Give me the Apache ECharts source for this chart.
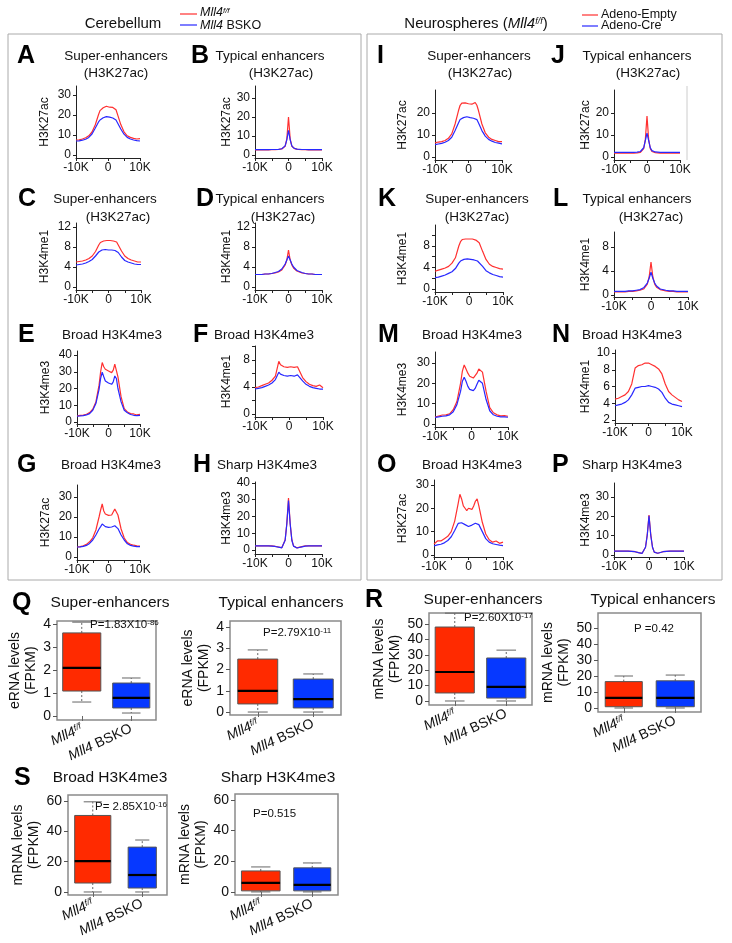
<!DOCTYPE html>
<html><head><meta charset="utf-8">
<script src="https://cdn.jsdelivr.net/npm/echarts@6/dist/echarts.min.js"></script>
<style>html,body{margin:0;padding:0;background:#fff}#c{width:732px;height:943px}</style>
</head><body><div id="c"></div>
<script>
// ---------- DATA ----------
const X_POS = [-10,-9,-8,-7,-6,-5,-4,-3,-2.5,-2,-1.5,-1,-0.5,0,0.5,1,1.5,2,2.5,3,4,5,6,7,8,9,10];
const X_TICKS = [-10,-5,0,5,10];
const X_LABELS = [-10,0,10];

const A_RED  = [7.5,7.6,8.0,8.6,9.6,11.5,15.0,20.0,22.2,23.2,23.6,23.9,24.4,24.2,23.9,23.5,23.8,23.6,22.6,20.2,15.2,11.6,9.6,8.8,8.3,8.0,8.2];
const A_BLUE = [7.0,7.1,7.4,7.9,8.8,10.5,13.4,16.4,17.5,18.2,18.6,18.9,19.2,19.1,18.9,18.7,18.5,18.2,17.5,16.0,13.0,10.4,8.8,8.0,7.5,7.2,7.0];
const B_RED  = [2.7,2.7,2.7,2.7,2.7,2.8,2.8,2.9,3.0,3.2,3.6,4.6,8.5,20.0,8.5,4.6,3.6,3.2,3.0,2.9,2.8,2.8,2.7,2.7,2.7,2.7,2.7];
const B_BLUE = [2.8,2.8,2.8,2.8,2.8,2.9,2.9,3.0,3.1,3.3,3.7,4.8,8.0,13.0,8.0,4.8,3.7,3.3,3.1,3.0,2.9,2.9,2.8,2.8,2.8,2.8,2.8];
const C_RED  = [5.0,5.1,5.2,5.4,5.7,6.2,7.1,8.4,8.9,9.1,9.2,9.3,9.3,9.2,9.3,9.2,9.2,9.1,9.0,8.6,7.2,6.2,5.7,5.4,5.2,5.0,5.0];
const C_BLUE = [4.4,4.5,4.6,4.8,5.1,5.5,6.2,7.0,7.3,7.4,7.4,7.5,7.5,7.4,7.5,7.4,7.4,7.3,7.2,6.9,6.0,5.3,5.0,4.8,4.6,4.5,4.5];
const D_RED  = [2.5,2.5,2.5,2.6,2.6,2.7,2.8,3.0,3.2,3.4,3.8,4.4,5.4,7.4,5.4,4.4,3.8,3.4,3.2,3.0,2.8,2.7,2.6,2.6,2.5,2.5,2.5];
const D_BLUE = [2.5,2.5,2.5,2.6,2.6,2.7,2.9,3.1,3.3,3.6,4.0,4.6,5.4,6.2,5.4,4.6,4.0,3.6,3.3,3.1,2.9,2.7,2.6,2.6,2.5,2.5,2.5];
const E_RED  = [3.6,3.9,4.1,4.6,5.6,7.6,12.0,22.0,30.0,35.5,33.0,31.5,31.0,30.5,30.0,29.5,31.0,34.5,33.5,27.0,15.0,8.0,6.0,5.0,4.8,4.2,4.5];
const E_BLUE = [3.5,3.6,3.8,4.2,5.0,7.0,11.0,19.5,26.0,29.8,27.0,24.5,23.5,23.3,23.0,22.5,24.0,27.5,26.0,20.0,12.0,7.0,5.5,4.5,4.0,3.8,4.0];
const F_RED  = [3.9,4.0,4.2,4.4,4.6,5.0,5.6,7.8,7.3,7.1,7.0,7.0,6.9,6.9,7.0,6.9,6.9,7.0,7.0,7.1,5.4,4.8,4.4,4.2,4.1,4.3,3.9];
const F_BLUE = [3.7,3.8,3.9,4.1,4.3,4.6,5.1,6.2,5.9,5.8,5.7,5.7,5.6,5.6,5.7,5.7,5.6,5.7,5.8,6.0,4.9,4.4,4.1,3.9,3.8,3.7,3.7];
const G_RED  = [5.0,5.2,5.6,6.3,7.6,9.6,13.5,20.0,23.5,26.5,23.0,21.5,21.0,20.8,21.0,21.0,22.0,24.0,24.5,21.0,14.0,9.5,7.2,6.4,5.9,5.6,5.5];
const G_BLUE = [5.0,5.1,5.3,5.8,6.8,8.5,11.0,14.0,15.2,16.5,15.6,15.2,15.0,14.8,15.0,15.0,15.2,15.6,15.4,14.2,11.0,8.5,6.6,5.8,5.4,5.2,5.2];
const H_RED  = [2.5,2.5,2.5,2.5,2.5,2.4,2.2,1.8,1.5,1.4,2.4,6.0,16.0,31.0,16.0,6.0,2.4,1.4,1.3,1.5,2.0,2.4,2.5,2.5,2.5,2.5,2.5];
const H_BLUE = [2.4,2.4,2.4,2.4,2.4,2.3,2.1,1.7,1.4,1.3,2.3,5.8,15.5,29.5,15.5,5.8,2.3,1.3,1.2,1.4,1.9,2.3,2.4,2.4,2.4,2.4,2.4];
const I_RED  = [6.4,6.8,7.0,7.5,8.5,10.5,15.0,21.0,23.5,24.5,24.0,24.6,24.0,24.2,24.6,24.0,24.5,24.8,23.5,21.0,15.0,11.0,9.0,8.0,7.5,7.0,7.0];
const I_BLUE = [5.6,5.9,6.2,6.7,7.5,9.0,12.0,15.5,17.0,17.6,17.9,18.1,18.3,18.0,17.9,17.8,17.6,17.5,17.0,15.5,12.0,9.5,8.0,7.2,6.6,6.3,6.0];
const J_RED  = [1.8,1.8,1.8,1.8,1.8,1.8,1.8,1.9,2.0,2.1,2.5,3.8,8.0,18.6,8.0,3.8,2.5,2.1,2.0,1.9,1.8,1.8,1.8,1.8,1.8,1.8,1.8];
const J_BLUE = [2.1,2.1,2.1,2.1,2.1,2.1,2.1,2.2,2.3,2.5,2.9,4.2,7.5,10.9,7.5,4.2,2.9,2.5,2.3,2.2,2.1,2.1,2.1,2.1,2.1,2.1,2.1];
const K_RED  = [3.3,3.5,3.7,3.9,4.2,4.8,5.8,8.0,8.8,9.2,9.3,9.3,9.4,9.3,9.2,9.3,9.2,9.1,8.9,8.6,7.0,5.5,4.6,4.2,4.0,3.8,3.7];
const K_BLUE = [2.1,2.2,2.4,2.6,2.9,3.2,3.8,4.8,5.2,5.4,5.5,5.5,5.6,5.5,5.5,5.4,5.4,5.3,5.2,5.0,4.2,3.4,3.0,2.7,2.5,2.3,2.2];
const L_RED  = [0.5,0.5,0.5,0.5,0.6,0.6,0.7,0.8,0.9,1.0,1.3,1.8,3.0,5.5,3.0,1.8,1.3,1.0,0.9,0.8,0.7,0.6,0.6,0.5,0.5,0.5,0.5];
const L_BLUE = [0.6,0.6,0.6,0.6,0.7,0.7,0.8,0.9,1.0,1.2,1.5,2.0,2.8,3.8,2.8,2.0,1.5,1.2,1.0,0.9,0.8,0.7,0.7,0.6,0.6,0.6,0.6];
const M_RED  = [3.4,3.9,4.4,4.5,5.0,7.0,11.0,20.0,26.0,29.0,27.0,25.0,23.5,22.6,22.6,23.0,25.0,27.0,27.5,25.5,16.0,8.0,5.5,4.5,4.0,4.1,3.8];
const M_BLUE = [3.2,3.5,3.8,4.0,4.5,6.0,9.5,16.0,21.0,23.0,21.0,18.5,17.0,16.2,16.4,17.5,19.5,21.5,22.0,20.0,12.0,6.5,4.5,3.8,3.5,3.5,3.3];
const N_RED  = [4.5,4.6,4.8,5.0,5.4,6.3,8.2,8.5,8.6,8.6,8.7,8.8,8.7,8.8,8.6,8.6,8.5,8.4,8.3,8.1,7.5,6.3,5.4,5.0,4.7,4.4,4.2];
const N_BLUE = [3.7,3.8,3.9,4.1,4.4,5.0,5.8,5.9,5.9,6.0,6.0,6.0,6.1,6.1,6.0,6.0,5.9,5.9,5.8,5.7,5.3,4.6,4.1,3.9,3.8,3.7,3.6];
const O_RED  = [4.7,6.0,6.0,7.0,8.0,10.0,14.5,22.0,26.0,24.0,21.0,20.0,19.0,20.0,20.0,19.5,21.0,23.0,24.0,21.0,14.0,9.0,6.5,5.5,6.0,5.0,5.5];
const O_BLUE = [3.9,4.3,4.6,5.2,6.2,7.8,10.5,13.5,14.2,13.8,13.4,13.0,12.4,12.2,12.6,12.8,13.0,13.6,13.7,13.0,10.0,7.0,5.5,4.8,4.5,4.2,4.0];
const P_RED  = [2.0,2.0,2.0,2.0,2.0,1.9,1.7,1.2,0.9,0.8,1.5,4.0,10.5,20.7,10.5,4.0,1.5,0.8,0.9,1.2,1.7,1.9,2.0,2.0,2.0,2.0,2.0];
const P_BLUE = [2.0,2.0,2.0,2.0,2.0,1.9,1.7,1.2,0.9,0.8,1.5,4.0,10.2,20.2,10.2,4.0,1.5,0.8,0.9,1.2,1.7,1.9,2.0,2.0,2.0,2.0,2.0];

const Y_0_30 = [0,10,20,30];
const Y_0_12 = [0,4,8,12];
const Y_0_40 = [0,10,20,30,40];
const Y_0_10_BY2 = [0,2,4,6,8,10];
const Y_0_8 = [0,4,8];
const Y_0_20 = [0,10,20];
const Y_2_10 = [2,4,6,8,10];

// box plots: [min, Q1, median, Q3, max]
const BOX_CATEGORIES = ['Mll4 f/f', 'Mll4 BSKO'];
const Q_SE_FF = [0.61,1.09,2.10,3.63,4.10];
const Q_SE_BSKO = [0.13,0.35,0.79,1.44,1.66];
const Q_TE_FF = [0,0.38,0.99,2.49,2.92];
const Q_TE_BSKO = [0,0.19,0.61,1.55,1.79];
const R_SE_FF = [0,5.2,18.8,48,57];
const R_SE_BSKO = [0,1.9,9.1,27.9,33];
const R_TE_FF = [0,0.8,6.3,16.5,20];
const R_TE_BSKO = [0,0.8,6.3,17,20.6];
const S_BR_FF = [0,5.9,20.4,50.5,59.5];
const S_BR_BSKO = [0,2.6,11.2,29.6,34.3];
const S_SH_FF = [0,0.7,5.9,13.7,16.3];
const S_SH_BSKO = [0,0.7,4.6,15.7,18.9];
const Y_BOX_0_4 = [0,1,2,3,4];
const Y_BOX_0_50 = [0,10,20,30,40,50];
const Y_BOX_0_60 = [0,20,40,60];

// ---------- STYLE / LAYOUT ----------
const FONT = 'Liberation Sans, Arial, sans-serif';
const RED = '#ff3030', BLUE = '#2828ff';
const RED_FILL = '#ff2a00', BLUE_FILL = '#0638ff';
const AX = '#222';

const LINE_PANELS = [
 {red:A_RED,blue:A_BLUE,yName:'H3K27ac',yT:Y_0_30,yL:Y_0_30,x0:76,x1:140,y0:86,y1:158,yMin:-1.5,yMax:34.5,gap:25},
 {red:B_RED,blue:B_BLUE,yName:'H3K27ac',yT:Y_0_30,yL:Y_0_30,x0:255,x1:322,y0:86,y1:158,yMin:-1.58,yMax:36.3,gap:22},
 {red:C_RED,blue:C_BLUE,yName:'H3K4me1',yT:Y_0_12,yL:Y_0_12,x0:76,x1:141,y0:223,y1:290,yMin:-0.6,yMax:12.8,gap:25},
 {red:D_RED,blue:D_BLUE,yName:'H3K4me1',yT:Y_0_12,yL:Y_0_12,x0:255,x1:322,y0:223,y1:290,yMin:-0.6,yMax:12.8,gap:22},
 {red:E_RED,blue:E_BLUE,yName:'H3K4me3',yT:Y_0_40,yL:Y_0_40,x0:77,x1:140,y0:351,y1:424,yMin:-1.2,yMax:42.4,gap:25},
 {red:F_RED,blue:F_BLUE,yName:'H3K4me1',yT:Y_0_10_BY2,yL:Y_0_8,x0:255,x1:323,y0:346,y1:417,yMin:-0.44,yMax:10.07,gap:22},
 {red:G_RED,blue:G_BLUE,yName:'H3K27ac',yT:Y_0_30,yL:Y_0_30,x0:77,x1:140,y0:485,y1:560,yMin:-1.5,yMax:36,gap:25},
 {red:H_RED,blue:H_BLUE,yName:'H3K4me3',yT:Y_0_40,yL:Y_0_40,x0:255,x1:322,y0:482,y1:554,yMin:-2.4,yMax:40.6,gap:22},
 {red:I_RED,blue:I_BLUE,yName:'H3K27ac',yT:Y_0_20,yL:Y_0_20,x0:435,x1:502,y0:90,y1:160,yMin:-1.36,yMax:30.45,gap:26},
 {red:J_RED,blue:J_BLUE,yName:'H3K27ac',yT:Y_0_20,yL:Y_0_20,x0:614,x1:680,y0:90,y1:160,yMin:-1.36,yMax:30.45,gap:22},
 {red:K_RED,blue:K_BLUE,yName:'H3K4me1',yT:Y_0_10_BY2,yL:Y_0_8,x0:435,x1:503,y0:225,y1:292,yMin:-0.56,yMax:11.9,gap:26},
 {red:L_RED,blue:L_BLUE,yName:'H3K4me1',yT:Y_0_8,yL:Y_0_8,x0:614,x1:688,y0:232,y1:297,yMin:-0.33,yMax:10.5,gap:22},
 {red:M_RED,blue:M_BLUE,yName:'H3K4me3',yT:Y_0_30,yL:Y_0_30,x0:435,x1:508,y0:352,y1:427,yMin:-1.5,yMax:35.4,gap:26},
 {red:N_RED,blue:N_BLUE,yName:'H3K4me1',yT:Y_2_10,yL:Y_2_10,x0:615,x1:682,y0:350,y1:423,yMin:1.64,yMax:10.36,gap:23},
 {red:O_RED,blue:O_BLUE,yName:'H3K27ac',yT:Y_0_30,yL:Y_0_30,x0:434,x1:503,y0:480,y1:557,yMin:-0.86,yMax:32.1,gap:25},
 {red:P_RED,blue:P_BLUE,yName:'H3K4me3',yT:Y_0_30,yL:Y_0_30,x0:614,x1:684,y0:483,y1:557,yMin:-1.03,yMax:37.2,gap:22}
];

const BOX_PANELS = [
 {ff:Q_SE_FF,ko:Q_SE_BSKO,yName:'eRNA levels\n(FPKM)',yT:Y_BOX_0_4,x0:57,x1:156,y0:621,y1:720,yMin:-0.175,yMax:4.15,gap:12,w:[0.77,0.75]},
 {ff:Q_TE_FF,ko:Q_TE_BSKO,yName:'eRNA levels\n(FPKM)',yT:Y_BOX_0_4,x0:230,x1:341,y0:621,y1:715,yMin:-0.14,yMax:4.28,gap:10,w:[0.72,0.72]},
 {ff:R_SE_FF,ko:R_SE_BSKO,yName:'mRNA levels\n(FPKM)',yT:Y_BOX_0_50,x0:429,x1:532,y0:613,y1:705,yMin:-2.6,yMax:57.1,gap:24,w:[0.76,0.76]},
 {ff:R_TE_FF,ko:R_TE_BSKO,yName:'mRNA levels\n(FPKM)',yT:Y_BOX_0_50,x0:598,x1:701,y0:613,y1:712,yMin:-2.5,yMax:59.4,gap:21,w:[0.72,0.74]},
 {ff:S_BR_FF,ko:S_BR_BSKO,yName:'mRNA levels\n(FPKM)',yT:Y_BOX_0_60,x0:68,x1:167,y0:795,y1:895,yMin:-2,yMax:64,gap:24,w:[0.73,0.57]},
 {ff:S_SH_FF,ko:S_SH_BSKO,yName:'mRNA levels\n(FPKM)',yT:Y_BOX_0_60,x0:235,x1:338,y0:794,y1:895,yMin:-2,yMax:63.9,gap:21,w:[0.75,0.72]}
];

const grid = [], xAxis = [], yAxis = [], series = [];
const zip = arr => X_POS.map((x,i)=>[x, arr[i]]);

LINE_PANELS.forEach((p,i)=>{
  grid.push({left:p.x0, top:p.y0, width:p.x1-p.x0, height:p.y1-p.y0});
  xAxis.push({type:'value', gridIndex:i, min:-10, max:10,
    axisLine:{show:true,onZero:false,lineStyle:{color:AX,width:1}},
    axisTick:{show:true,length:3,customValues:X_TICKS,lineStyle:{color:AX}},
    axisLabel:{customValues:X_LABELS,fontSize:12,fontFamily:FONT,color:'#111',margin:4,
      formatter:v=> v===0 ? '0' : v+'K'},
    splitLine:{show:false}});
  yAxis.push({type:'value', gridIndex:i, min:p.yMin, max:p.yMax,
    name:p.yName, nameLocation:'middle', nameGap:p.gap, nameRotate:90,
    nameTextStyle:{fontSize:12,fontFamily:FONT,color:'#111'},
    axisLine:{show:true,onZero:false,lineStyle:{color:AX,width:1}},
    axisTick:{show:true,length:3,customValues:p.yT,lineStyle:{color:AX}},
    axisLabel:{customValues:p.yL,fontSize:12,fontFamily:FONT,color:'#111',margin:5},
    splitLine:{show:false}});
  series.push({type:'line',xAxisIndex:i,yAxisIndex:i,data:zip(p.red),showSymbol:false,symbol:'none',
    lineStyle:{color:RED,width:1.2},silent:true,z:2});
  series.push({type:'line',xAxisIndex:i,yAxisIndex:i,data:zip(p.blue),showSymbol:false,symbol:'none',
    lineStyle:{color:BLUE,width:1.2},silent:true,z:3});
});

function boxRenderer(ratios){
  return function(params, api){
    const ci = api.value(0);
    const pMin = api.coord([ci, api.value(1)]);
    const pQ1 = api.coord([ci, api.value(2)]);
    const pMed = api.coord([ci, api.value(3)]);
    const pQ3 = api.coord([ci, api.value(4)]);
    const pMax = api.coord([ci, api.value(5)]);
    const band = api.size([1,0])[0];
    const w = band*ratios[params.dataIndex];
    const x = pMed[0], cap = w*0.5;
    const color = api.visual('color');
    const wl = {stroke:'#666',lineWidth:1};
    return {type:'group',children:[
      {type:'line',shape:{x1:x,y1:pQ3[1],x2:x,y2:pMax[1]},style:Object.assign({lineDash:[2,2]},wl)},
      {type:'line',shape:{x1:x-cap/2,y1:pMax[1],x2:x+cap/2,y2:pMax[1]},style:wl},
      {type:'line',shape:{x1:x,y1:pQ1[1],x2:x,y2:pMin[1]},style:Object.assign({lineDash:[2,2]},wl)},
      {type:'line',shape:{x1:x-cap/2,y1:pMin[1],x2:x+cap/2,y2:pMin[1]},style:wl},
      {type:'rect',shape:{x:x-w/2,y:pQ3[1],width:w,height:pQ1[1]-pQ3[1]},style:{fill:color,stroke:'#555',lineWidth:1}},
      {type:'line',shape:{x1:x-w/2,y1:pMed[1],x2:x+w/2,y2:pMed[1]},style:{stroke:'#000',lineWidth:2.2}}
    ]};
  };
}

const catRich = {
  i:{fontStyle:'italic',fontSize:14,fontFamily:FONT,color:'#111'},
  n:{fontSize:14,fontFamily:FONT,color:'#111'},
  s:{fontStyle:'italic',fontSize:9,fontFamily:FONT,color:'#111',verticalAlign:'top'}
};

BOX_PANELS.forEach((p,k)=>{
  const i = LINE_PANELS.length + k;
  grid.push({left:p.x0, top:p.y0, width:p.x1-p.x0, height:p.y1-p.y0, show:true, borderColor:'#8a8a8a', borderWidth:1.5, backgroundColor:'transparent'});
  xAxis.push({type:'category', gridIndex:i, data:BOX_CATEGORIES,
    axisLine:{show:false}, axisTick:{show:true,alignWithLabel:true,length:5,lineStyle:{color:'#666'}},
    axisLabel:{rotate:25,margin:8,fontSize:14,fontFamily:FONT,color:'#111',
      formatter:(v,idx)=> idx===0 ? '{i|Mll4}{s|f/f}' : '{i|Mll4}{n| BSKO}', rich:catRich},
    splitLine:{show:false}});
  yAxis.push({type:'value', gridIndex:i, min:p.yMin, max:p.yMax,
    name:p.yName, nameLocation:'middle', nameGap:p.gap, nameRotate:90,
    nameTextStyle:{fontSize:14,fontFamily:FONT,color:'#111',lineHeight:16},
    axisLine:{show:false,onZero:false},
    axisTick:{show:true,length:4,customValues:p.yT,lineStyle:{color:'#555'}},
    axisLabel:{customValues:p.yT,fontSize:14,fontFamily:FONT,color:'#111',margin:6},
    splitLine:{show:false}});
  series.push({type:'custom',xAxisIndex:i,yAxisIndex:i,renderItem:boxRenderer(p.w),silent:true,
    encode:{x:0,y:[1,2,3,4,5]},
    data:[{value:[0].concat(p.ff),itemStyle:{color:RED_FILL}},{value:[1].concat(p.ko),itemStyle:{color:BLUE_FILL}}]});
});

// ---------- TEXT / DECORATION ----------
const G = [];
function txt(x,y,text,o){
  G.push({type:'text',silent:true,z:10,style:Object.assign({x:x,y:y,text:text,fill:'#111',fontSize:13.5,fontFamily:FONT,align:'center',verticalAlign:'middle'},o||{})});
}
function letter(x,y,t){ txt(x,y,t,{fontSize:25,fontWeight:'bold',align:'left',fill:'#000'}); }
function seg(x1,y1,x2,y2,c,w){ G.push({type:'line',silent:true,z:10,shape:{x1,y1,x2,y2},style:{stroke:c,lineWidth:w||1}}); }

// frames
G.push({type:'rect',silent:true,shape:{x:8,y:34,width:353,height:546},style:{fill:'none',stroke:'#aaa',lineWidth:1}});
G.push({type:'rect',silent:true,shape:{x:367,y:34,width:355,height:546},style:{fill:'none',stroke:'#aaa',lineWidth:1}});
seg(687,86,687,160,'#ccc',1);

const supRich = {
  i:{fontStyle:'italic',fontSize:12.5,fontFamily:FONT,fill:'#111'},
  s:{fontStyle:'italic',fontSize:8,fontFamily:FONT,fill:'#111',verticalAlign:'top'},
  n:{fontSize:12.5,fontFamily:FONT,fill:'#111'}
};
// header
txt(123,24,'Cerebellum',{fontSize:15});
seg(180,14,197,14,RED,1.2); seg(180,25,197,25,BLUE,1.2);
txt(200,13,'{i|Mll4}{s|f/f}',{align:'left',rich:supRich});
txt(200,26,'{i|Mll4}{n| BSKO}',{align:'left',rich:supRich});
txt(476,24,'{n|Neurospheres (}{i|Mll4}{s|f/f}{n|)}',{rich:{
  n:{fontSize:15,fontFamily:FONT,fill:'#111'},
  i:{fontSize:15,fontStyle:'italic',fontFamily:FONT,fill:'#111'},
  s:{fontSize:9,fontStyle:'italic',fontFamily:FONT,fill:'#111',verticalAlign:'top'}}});
seg(582,15,598,15,RED,1.2); seg(582,26,598,26,BLUE,1.2);
txt(601,15,'Adeno-Empty',{align:'left',fontSize:12.5});
txt(601,26,'Adeno-Cre',{align:'left',fontSize:12.5});

// panel letters
[['A',17,56],['B',191,56],['I',377,56],['J',551,56],
 ['C',18,199],['D',196,199],['K',378,199],['L',553,199],
 ['E',18,335],['F',193,335],['M',378,335],['N',552,335],
 ['G',17,465],['H',193,465],['O',377,465],['P',552,465],
 ['Q',12,603],['R',365,600],['S',14,778]].forEach(a=>letter(a[1],a[2],a[0]));

// panel titles
[['Super-enhancers',116,56],['(H3K27ac)',116,73],['Typical enhancers',270,56],['(H3K27ac)',281,73],
 ['Super-enhancers',479,56],['(H3K27ac)',480,73],['Typical enhancers',637,56],['(H3K27ac)',648,73],
 ['Super-enhancers',105,199],['(H3K27ac)',118,217],['Typical enhancers',270,199],['(H3K27ac)',283,217],
 ['Super-enhancers',477,199],['(H3K27ac)',477,217],['Typical enhancers',637,199],['(H3K27ac)',651,217],
 ['Broad H3K4me3',112,335],['Broad H3K4me3',264,335],['Broad H3K4me3',472,335],['Broad H3K4me3',632,335],
 ['Broad H3K4me3',111,465],['Sharp H3K4me3',267,465],['Broad H3K4me3',472,465],['Sharp H3K4me3',632,465]
].forEach(t=>txt(t[1],t[2],t[0]));

[['Super-enhancers',110,603],['Typical enhancers',281,603],['Super-enhancers',483,600],['Typical enhancers',653,600],
 ['Broad H3K4me3',110,778],['Sharp H3K4me3',278,778]].forEach(t=>txt(t[1],t[2],t[0],{fontSize:15.5}));

const pRich = {n:{fontSize:11.5,fontFamily:FONT,fill:'#111'}, s:{fontSize:8,fontFamily:FONT,fill:'#111',verticalAlign:'top'}};
txt(90,625,'{n|P=1.83X10}{s|-86}',{align:'left',rich:pRich});
txt(263,633,'{n|P=2.79X10}{s|-11}',{align:'left',rich:pRich});
txt(464,618,'{n|P=2.60X10}{s|-17}',{align:'left',rich:pRich});
txt(634,629,'{n|P =0.42}',{align:'left',rich:pRich});
txt(95,807,'{n|P= 2.85X10}{s|-16}',{align:'left',rich:pRich});
txt(253,814,'{n|P=0.515}',{align:'left',rich:pRich});

const chart = echarts.init(document.getElementById('c'), null, {width:732,height:943,renderer:'canvas'});
chart.setOption({animation:false, backgroundColor:'#fff', textStyle:{fontFamily:FONT},
  grid:grid, xAxis:xAxis, yAxis:yAxis, series:series, graphic:G});
</script></body></html>
